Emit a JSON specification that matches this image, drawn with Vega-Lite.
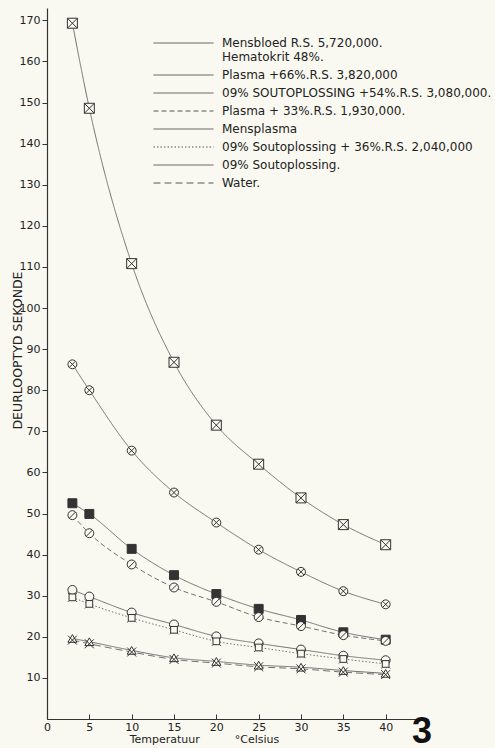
{
  "$schema": "https://vega.github.io/schema/vega-lite/v6.json",
  "width": 381,
  "height": 711,
  "autosize": {"type": "none"},
  "padding": {"left": 47, "top": 8, "right": 67, "bottom": 29},
  "background": "#faf9f1",
  "title": {"text": "3", "orient": "bottom", "anchor": "end", "frame": "group", "font": "Liberation Sans", "fontSize": 36, "fontWeight": "bold", "color": "#111", "dx": 4, "dy": -29, "offset": 0},
  "config": {
    "view": {"stroke": null},
    "axis": {"labelFont": "DejaVu Sans", "labelFontSize": 11, "titleFont": "DejaVu Sans", "titleFontWeight": "normal", "labelColor": "#222", "titleColor": "#222", "domainColor": "#333", "tickColor": "#333", "grid": false, "domainWidth": 1.2, "tickWidth": 1}
  },
  "data": {"values": [
    {"s": "Mensbloed R.S. 5,720,000.", "t": 3, "v": 169.3},
    {"s": "Mensbloed R.S. 5,720,000.", "t": 5, "v": 148.6},
    {"s": "Mensbloed R.S. 5,720,000.", "t": 10, "v": 110.8},
    {"s": "Mensbloed R.S. 5,720,000.", "t": 15, "v": 86.8},
    {"s": "Mensbloed R.S. 5,720,000.", "t": 20, "v": 71.5},
    {"s": "Mensbloed R.S. 5,720,000.", "t": 25, "v": 62.0},
    {"s": "Mensbloed R.S. 5,720,000.", "t": 30, "v": 53.8},
    {"s": "Mensbloed R.S. 5,720,000.", "t": 35, "v": 47.3},
    {"s": "Mensbloed R.S. 5,720,000.", "t": 40, "v": 42.4},
    {"s": "Plasma +66%.R.S. 3,820,000", "t": 3, "v": 86.3},
    {"s": "Plasma +66%.R.S. 3,820,000", "t": 5, "v": 80.0},
    {"s": "Plasma +66%.R.S. 3,820,000", "t": 10, "v": 65.3},
    {"s": "Plasma +66%.R.S. 3,820,000", "t": 15, "v": 55.1},
    {"s": "Plasma +66%.R.S. 3,820,000", "t": 20, "v": 47.8},
    {"s": "Plasma +66%.R.S. 3,820,000", "t": 25, "v": 41.2},
    {"s": "Plasma +66%.R.S. 3,820,000", "t": 30, "v": 35.8},
    {"s": "Plasma +66%.R.S. 3,820,000", "t": 35, "v": 31.1},
    {"s": "Plasma +66%.R.S. 3,820,000", "t": 40, "v": 27.9},
    {"s": "09% SOUTOPLOSSING +54%.R.S. 3,080,000.", "t": 3, "v": 52.5},
    {"s": "09% SOUTOPLOSSING +54%.R.S. 3,080,000.", "t": 5, "v": 49.9},
    {"s": "09% SOUTOPLOSSING +54%.R.S. 3,080,000.", "t": 10, "v": 41.4},
    {"s": "09% SOUTOPLOSSING +54%.R.S. 3,080,000.", "t": 15, "v": 35.0},
    {"s": "09% SOUTOPLOSSING +54%.R.S. 3,080,000.", "t": 20, "v": 30.4},
    {"s": "09% SOUTOPLOSSING +54%.R.S. 3,080,000.", "t": 25, "v": 26.8},
    {"s": "09% SOUTOPLOSSING +54%.R.S. 3,080,000.", "t": 30, "v": 24.1},
    {"s": "09% SOUTOPLOSSING +54%.R.S. 3,080,000.", "t": 35, "v": 21.1},
    {"s": "09% SOUTOPLOSSING +54%.R.S. 3,080,000.", "t": 40, "v": 19.3},
    {"s": "Plasma + 33%.R.S. 1,930,000.", "t": 3, "v": 49.6},
    {"s": "Plasma + 33%.R.S. 1,930,000.", "t": 5, "v": 45.2},
    {"s": "Plasma + 33%.R.S. 1,930,000.", "t": 10, "v": 37.6},
    {"s": "Plasma + 33%.R.S. 1,930,000.", "t": 15, "v": 32.0},
    {"s": "Plasma + 33%.R.S. 1,930,000.", "t": 20, "v": 28.5},
    {"s": "Plasma + 33%.R.S. 1,930,000.", "t": 25, "v": 24.8},
    {"s": "Plasma + 33%.R.S. 1,930,000.", "t": 30, "v": 22.6},
    {"s": "Plasma + 33%.R.S. 1,930,000.", "t": 35, "v": 20.4},
    {"s": "Plasma + 33%.R.S. 1,930,000.", "t": 40, "v": 19.0},
    {"s": "Mensplasma", "t": 3, "v": 31.4},
    {"s": "Mensplasma", "t": 5, "v": 29.8},
    {"s": "Mensplasma", "t": 10, "v": 25.9},
    {"s": "Mensplasma", "t": 15, "v": 23.0},
    {"s": "Mensplasma", "t": 20, "v": 20.1},
    {"s": "Mensplasma", "t": 25, "v": 18.4},
    {"s": "Mensplasma", "t": 30, "v": 16.9},
    {"s": "Mensplasma", "t": 35, "v": 15.4},
    {"s": "Mensplasma", "t": 40, "v": 14.3},
    {"s": "09% Soutoplossing + 36%.R.S. 2,040,000", "t": 3, "v": 29.6},
    {"s": "09% Soutoplossing + 36%.R.S. 2,040,000", "t": 5, "v": 28.0},
    {"s": "09% Soutoplossing + 36%.R.S. 2,040,000", "t": 10, "v": 24.6},
    {"s": "09% Soutoplossing + 36%.R.S. 2,040,000", "t": 15, "v": 21.7},
    {"s": "09% Soutoplossing + 36%.R.S. 2,040,000", "t": 20, "v": 18.9},
    {"s": "09% Soutoplossing + 36%.R.S. 2,040,000", "t": 25, "v": 17.4},
    {"s": "09% Soutoplossing + 36%.R.S. 2,040,000", "t": 30, "v": 15.9},
    {"s": "09% Soutoplossing + 36%.R.S. 2,040,000", "t": 35, "v": 14.6},
    {"s": "09% Soutoplossing + 36%.R.S. 2,040,000", "t": 40, "v": 13.4},
    {"s": "09% Soutoplossing.", "t": 3, "v": 19.6},
    {"s": "09% Soutoplossing.", "t": 5, "v": 18.8},
    {"s": "09% Soutoplossing.", "t": 10, "v": 16.7},
    {"s": "09% Soutoplossing.", "t": 15, "v": 14.9},
    {"s": "09% Soutoplossing.", "t": 20, "v": 14.0},
    {"s": "09% Soutoplossing.", "t": 25, "v": 13.1},
    {"s": "09% Soutoplossing.", "t": 30, "v": 12.6},
    {"s": "09% Soutoplossing.", "t": 35, "v": 11.8},
    {"s": "09% Soutoplossing.", "t": 40, "v": 11.1},
    {"s": "Water.", "t": 3, "v": 19.2},
    {"s": "Water.", "t": 5, "v": 18.3},
    {"s": "Water.", "t": 10, "v": 16.3},
    {"s": "Water.", "t": 15, "v": 14.5},
    {"s": "Water.", "t": 20, "v": 13.6},
    {"s": "Water.", "t": 25, "v": 12.7},
    {"s": "Water.", "t": 30, "v": 12.2},
    {"s": "Water.", "t": 35, "v": 11.4},
    {"s": "Water.", "t": 40, "v": 10.8}
  ]},
  "encoding": {
    "x": {"field": "t", "type": "quantitative", "scale": {"domain": [0, 45], "nice": false},
      "axis": {"values": [0, 5, 10, 15, 20, 25, 30, 35, 40], "labelFlush": false, "tickSize": -5, "labelPadding": 7, "title": "Temperatuur\u00a0\u00a0\u00a0\u00a0\u00a0\u00a0\u00a0\u00a0\u00a0\u00a0°Celsius", "titleFontSize": 11, "titleX": 157, "titleY": 20, "titleAlign": "center", "titleBaseline": "middle"}},
    "y": {"field": "v", "type": "quantitative", "scale": {"domain": [0, 173], "nice": false},
      "axis": {"values": [10, 20, 30, 40, 50, 60, 70, 80, 90, 100, 110, 120, 130, 140, 150, 160, 170], "tickSize": 5, "labelPadding": 2, "title": "DEURLOOPTYD SEKONDE", "titleFontSize": 12.5, "titleX": -30, "titleY": 342, "titleAngle": -90, "titleAlign": "center", "titleBaseline": "middle"}}
  },
  "layer": [
    {
      "mark": {"type": "line", "interpolate": "monotone", "color": "#707070", "strokeWidth": 1},
      "encoding": {
        "strokeDash": {"field": "s", "type": "nominal",
          "scale": {"domain": ["Mensbloed R.S. 5,720,000.", "Plasma +66%.R.S. 3,820,000", "09% SOUTOPLOSSING +54%.R.S. 3,080,000.", "Plasma + 33%.R.S. 1,930,000.", "Mensplasma", "09% Soutoplossing + 36%.R.S. 2,040,000", "09% Soutoplossing.", "Water."],
            "range": [[1, 0], [1, 0], [1, 0], [5, 3], [1, 0], [1.5, 2], [1, 0], [7, 4]]},
          "legend": {"orient": "none", "legendX": 130.5, "legendY": 29, "title": null, "padding": 0, "rowPadding": 6, "labelOffset": 32.5, "labelFont": "DejaVu Sans", "labelFontSize": 12, "labelColor": "#222", "labelLimit": 0,
            "symbolType": "M-6,0H6", "symbolSize": 100, "symbolStrokeColor": "#555", "symbolStrokeWidth": 1, "symbolFillColor": "transparent",
            "labelExpr": "datum.label == 'Mensbloed R.S. 5,720,000.' ? ['Mensbloed R.S. 5,720,000.', '\u00a0\u00a0\u00a0\u00a0\u00a0\u00a0\u00a0\u00a0\u00a0\u00a0\u00a0\u00a0\u00a0\u00a0\u00a0\u00a0\u00a0\u00a0\u00a0\u00a0Hematokrit 48%.'] : datum.label",
            "encode": {"labels": {"lineHeight": {"value": 10}}}}
        }
      }
    },
    {
      "mark": {"type": "point", "filled": false, "stroke": "#333", "strokeWidth": 1, "opacity": 1},
      "encoding": {
        "shape": {"field": "s", "type": "nominal",
          "scale": {"domain": ["Mensbloed R.S. 5,720,000.", "Plasma +66%.R.S. 3,820,000", "09% SOUTOPLOSSING +54%.R.S. 3,080,000.", "Plasma + 33%.R.S. 1,930,000.", "Mensplasma", "09% Soutoplossing + 36%.R.S. 2,040,000", "09% Soutoplossing.", "Water.", "-"],
            "range": ["M-1,-1H1V1H-1Z M-1,-1L1,1 M1,-1L-1,1", "M1,0L0.924,0.383L0.707,0.707L0.383,0.924L0,1L-0.383,0.924L-0.707,0.707L-0.924,0.383L-1,0L-0.924,-0.383L-0.707,-0.707L-0.383,-0.924L0,-1L0.383,-0.924L0.707,-0.707L0.924,-0.383Z M-0.7,-0.7L0.7,0.7 M0.7,-0.7L-0.7,0.7", "M-1,-1H1V1H-1Z", "M1,0L0.924,0.383L0.707,0.707L0.383,0.924L0,1L-0.383,0.924L-0.707,0.707L-0.924,0.383L-1,0L-0.924,-0.383L-0.707,-0.707L-0.383,-0.924L0,-1L0.383,-0.924L0.707,-0.707L0.924,-0.383Z M-0.7,0.7L0.7,-0.7", "circle", "M-0.75,-0.75H0.75V0.75H-0.75Z M-1,-1L-0.75,-0.75 M1,-1L0.75,-0.75 M1,1L0.75,0.75 M-1,1L-0.75,0.75", "triangle-up", "M-1,-1L1,1 M1,-1L-1,1", "circle"]},
          "legend": null
        },
        "fill": {"condition": {"test": "datum.s == '09% SOUTOPLOSSING +54%.R.S. 3,080,000.'", "value": "#333"}, "value": "#faf9f1"},
        "size": {"condition": {"test": "datum.s == 'Mensbloed R.S. 5,720,000.'", "value": 100}, "value": 80}
      }
    }
  ]
}
